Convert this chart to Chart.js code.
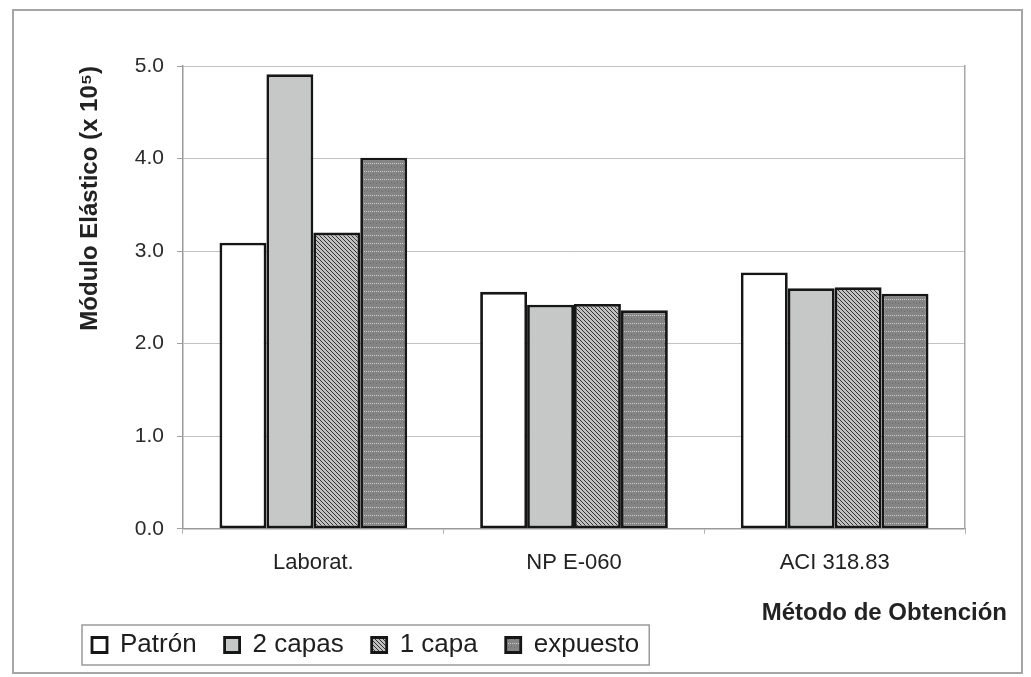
<!DOCTYPE html>
<html>
<head>
<meta charset="utf-8">
<script src="https://cdn.jsdelivr.net/npm/chart.js@4/dist/chart.umd.min.js"></script>
<style>
html,body{margin:0;padding:0;background:#fff;}
#wrap{width:1031px;height:677px;position:relative;}
</style>
</head>
<body>
<div id="wrap"><canvas id="c" width="1031" height="677"></canvas></div>
<script>
const categories = ["Laborat.", "NP E-060", "ACI 318.83"];
const seriesNames = ["Patrón", "2 capas", "1 capa", "expuesto"];
const patron   = [3.09, 2.56, 2.77];
const dosCapas = [4.91, 2.42, 2.60];
const unaCapa  = [3.20, 2.43, 2.61];
const expuesto = [4.01, 2.36, 2.54];
const yTicks = [0, 1, 2, 3, 4, 5];
const yTitle = "Módulo Elástico (x 10⁵)";
const xTitle = "Método de Obtención";

function hatchPattern(){
  const c = document.createElement('canvas'); c.width = 4; c.height = 4;
  const g = c.getContext('2d');
  g.fillStyle = '#c0c0c0'; g.fillRect(0,0,4,4);
  g.strokeStyle = '#333'; g.lineWidth = 1;
  g.beginPath();
  g.moveTo(0,0); g.lineTo(4,4);
  g.moveTo(-2,2); g.lineTo(2,6);
  g.moveTo(2,-2); g.lineTo(6,2);
  g.stroke();
  return document.getElementById('c').getContext('2d').createPattern(c,'repeat');
}
function dottedPattern(){
  const c = document.createElement('canvas'); c.width = 6; c.height = 8;
  const g = c.getContext('2d');
  g.fillStyle = '#848484'; g.fillRect(0,0,6,8);
  g.fillStyle = '#cfcfcf';
  g.fillRect(0,3,1,1); g.fillRect(2,3,1,1); g.fillRect(4,3,1,1);
  g.fillStyle = '#686868';
  g.fillRect(1,6,1,1); g.fillRect(4,7,1,1);
  return document.getElementById('c').getContext('2d').createPattern(c,'repeat');
}

const FONT = "'Liberation Sans', Arial, sans-serif";
const edge = '#161616';

const frame = {
  id: 'frame',
  beforeDraw(chart){
    const ctx = chart.ctx;
    ctx.save();
    ctx.fillStyle = '#fff';
    ctx.fillRect(0,0,chart.width,chart.height);
    ctx.strokeStyle = '#a6a6a6';
    ctx.lineWidth = 2;
    ctx.strokeRect(13, 10, 1009, 663);
    ctx.restore();
  },
  afterDraw(chart){
    const lg = chart.legend;
    if (!lg || !lg.legendHitBoxes || !lg.legendHitBoxes.length) return;
    const hb = lg.legendHitBoxes;
    const first = hb[0], last = hb[hb.length-1];
    const ctx = chart.ctx;
    ctx.save();
    ctx.strokeStyle = '#9a9a9a';
    ctx.lineWidth = 1.5;
    const x0 = first.left - 10, x1 = last.left + last.width + 10;
    const y0 = first.top - 7, y1 = first.top + first.height + 7;
    ctx.strokeRect(x0, y0, x1 - x0, y1 - y0);
    ctx.restore();
  }
};

new Chart(document.getElementById('c'), {
  type: 'bar',
  data: {
    labels: categories,
    datasets: [
      {label: seriesNames[0], data: patron,   backgroundColor: '#ffffff'},
      {label: seriesNames[1], data: dosCapas, backgroundColor: '#c6c8c8'},
      {label: seriesNames[2], data: unaCapa,  backgroundColor: hatchPattern()},
      {label: seriesNames[3], data: expuesto, backgroundColor: dottedPattern()}
    ].map(d => Object.assign(d, {borderColor: edge, borderWidth: 2.8, borderSkipped: false,
      categoryPercentage: 0.72, barPercentage: 1.0}))
  },
  options: {
    responsive: false,
    animation: false,
    devicePixelRatio: 1,
    layout: {padding: {left: 64, right: 24, top: 66, bottom: 9}},
    plugins: {
      tooltip: {enabled: false},
      legend: {
        position: 'bottom',
        align: 'start',
        labels: {
          boxWidth: 15, boxHeight: 15, padding: 28,
          color: '#1e1e1e',
          font: {family: FONT, size: 26}
        }
      },
      title: {
        display: true,
        text: xTitle,
        position: 'bottom',
        align: 'end',
        weight: 500,
        color: '#222',
        font: {family: FONT, size: 24, weight: 'bold'},
        padding: {top: 7, bottom: -24}
      }
    },
    scales: {
      x: {
        grid: {display: true, drawOnChartArea: false, drawTicks: true, tickLength: 5, color: '#b0b0b0', offset: true},
        border: {display: true, color: '#9a9a9a', width: 1.5},
        ticks: {color: '#222', padding: 16, font: {family: FONT, size: 22}, maxRotation: 0}
      },
      y: {
        min: 0, max: 5,
        afterBuildTicks(scale){ scale.ticks = yTicks.map(v => ({value: v})); },
        grid: {color: '#c2c2c2', lineWidth: 1, drawTicks: true, tickLength: 6, tickColor: '#a0a0a0'},
        border: {display: true, color: '#9a9a9a', width: 1.5},
        ticks: {color: '#2a2a2a', padding: 13, font: {family: FONT, size: 21},
          callback: v => Number(v).toFixed(1)},
        title: {display: true, text: yTitle, color: '#222', align: 'end',
          font: {family: FONT, size: 24, weight: 'bold'},
          padding: {top: 12, bottom: 17}}
      },
      y2: {
        position: 'right',
        grid: {display: false, drawTicks: false},
        border: {display: true, color: '#a6a6a6', width: 1.5},
        ticks: {display: false},
        afterFit(scale){ scale.width = 42; }
      }
    }
  },
  plugins: [frame]
});
</script>
</body>
</html>
